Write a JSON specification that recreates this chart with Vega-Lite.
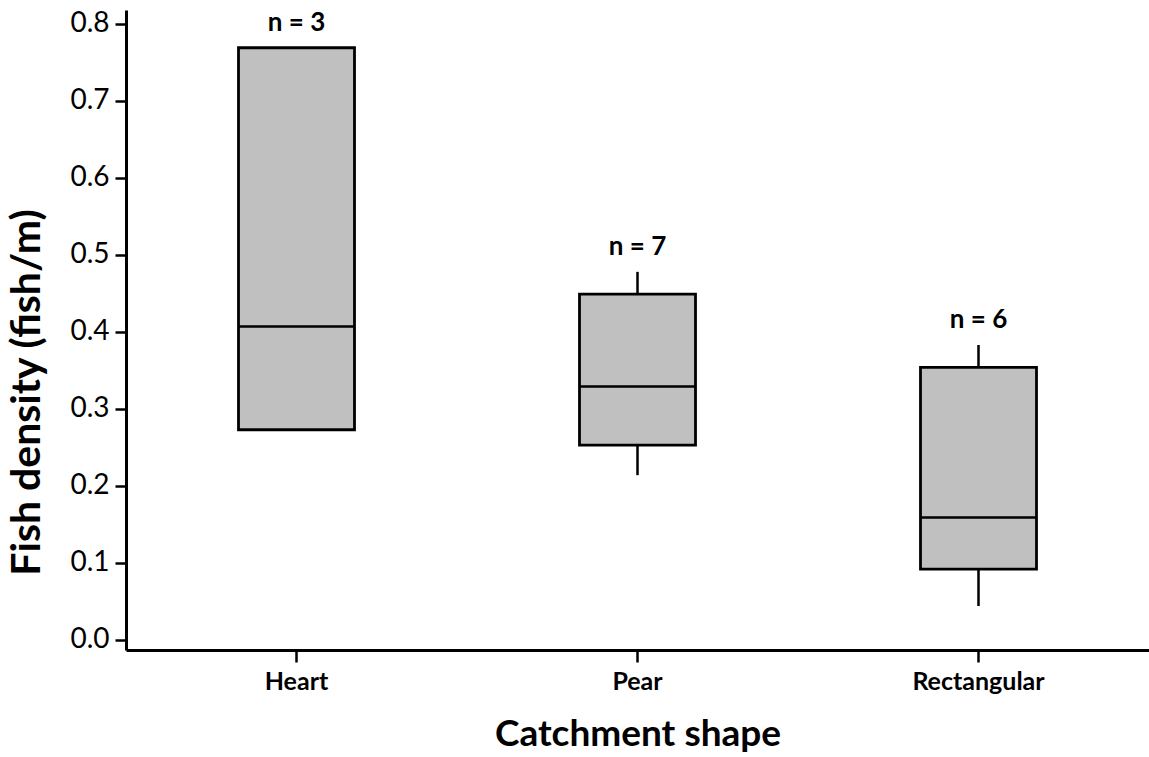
{
  "$schema": "https://vega.github.io/schema/vega-lite/v6.json",
  "width": 1023,
  "height": 640,
  "autosize": {"type": "none"},
  "padding": {"left": 126, "top": 10, "right": 0, "bottom": 107},
  "background": "white",
  "config": {
    "view": {"stroke": null},
    "font": "Lato",
    "axis": {"grid": false, "domainColor": "black", "tickColor": "black", "labelColor": "black", "titleColor": "black"}
  },
  "data": {
    "values": [
      {"shape": "Heart", "lower": 0.273, "q1": 0.273, "median": 0.407, "q3": 0.769, "upper": 0.769, "label": "n = 3"},
      {"shape": "Pear", "lower": 0.214, "q1": 0.253, "median": 0.329, "q3": 0.449, "upper": 0.478, "label": "n = 7"},
      {"shape": "Rectangular", "lower": 0.044, "q1": 0.092, "median": 0.159, "q3": 0.354, "upper": 0.383, "label": "n = 6"}
    ]
  },
  "encoding": {
    "x": {
      "field": "shape",
      "type": "nominal",
      "sort": null,
      "scale": {"paddingInner": 0, "paddingOuter": 0},
      "axis": {
        "title": "Catchment shape",
        "labelAngle": 0,
        "labelFont": "Lato",
        "labelFontWeight": "bold",
        "labelFontSize": 25,
        "labelPadding": 7,
        "tickSize": 12,
        "tickWidth": 2.5,
        "domainWidth": 3,
        "titleFont": "Lato",
        "titleFontWeight": "bold",
        "titleFontSize": 37,
        "titlePadding": 22
      }
    }
  },
  "layer": [
    {
      "mark": {"type": "rule", "color": "black", "strokeWidth": 2.5},
      "encoding": {
        "y": {
          "field": "lower",
          "type": "quantitative",
          "scale": {"domain": [-0.013, 0.818], "nice": false, "zero": false},
          "axis": {
            "title": "Fish density (fish/m)",
            "values": [0, 0.1, 0.2, 0.3, 0.4, 0.5, 0.6, 0.7, 0.8],
            "format": ".1f",
            "labelFont": "Lato",
            "labelFontSize": 28,
            "labelPadding": 6,
            "tickSize": 11,
            "tickWidth": 2.5,
            "domainWidth": 3,
            "titleFont": "Lato",
            "titleFontWeight": "bold",
            "titleFontSize": 41,
            "titleAngle": -90,
            "titleX": -99,
            "titleY": 382,
            "titleAlign": "center",
            "titleBaseline": "middle"
          }
        },
        "y2": {"field": "upper"}
      }
    },
    {
      "mark": {"type": "bar", "fill": "#c0c0c0", "stroke": "black", "strokeWidth": 2.8, "width": 116},
      "encoding": {
        "y": {"field": "q1", "type": "quantitative"},
        "y2": {"field": "q3"}
      }
    },
    {
      "mark": {"type": "tick", "color": "black", "opacity": 1, "size": 116, "thickness": 2.5},
      "encoding": {
        "y": {"field": "median", "type": "quantitative"}
      }
    },
    {
      "mark": {"type": "text", "font": "Lato", "fontWeight": "bold", "fontSize": 26, "baseline": "alphabetic", "dy": -17, "color": "black"},
      "encoding": {
        "y": {"field": "upper", "type": "quantitative"},
        "text": {"field": "label"}
      }
    }
  ]
}
